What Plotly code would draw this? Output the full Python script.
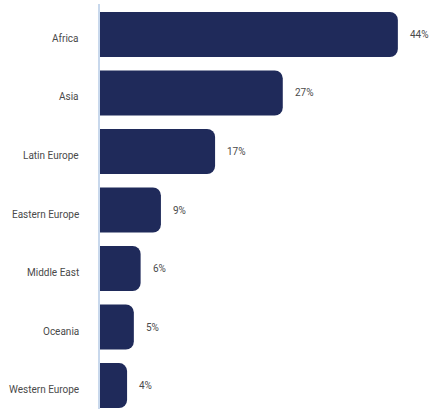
import plotly.graph_objects as go

regions = ["Africa", "Asia", "Latin Europe", "Eastern Europe", "Middle East", "Oceania", "Western Europe"]
shares = [44, 27, 17, 9, 6, 5, 4]
labels = [f"{v}%" for v in shares]

fig = go.Figure()
fig.add_trace(go.Bar(
    x=shares, y=regions, orientation="h",
    marker=dict(color="#1f2a5a", line=dict(width=0)),
    hoverinfo="skip",
))
for r, v, t in zip(regions, shares, labels):
    fig.add_annotation(x=v, y=r, text=t, showarrow=False, xanchor="left",
                       xshift=10, font=dict(family="Roboto", size=10, color="#4a4a4a"))
    fig.add_annotation(x=0, xref="paper", y=r, text=r, showarrow=False, xanchor="right",
                       xshift=-19, yshift=-4, font=dict(family="Roboto", size=10, color="#4a4a4a"))

fig.update_layout(
    width=429, height=409,
    margin=dict(l=100, r=0, t=4, b=0),
    paper_bgcolor="white", plot_bgcolor="white",
    bargap=0.23, barcornerradius=8,
    showlegend=False,
    font=dict(family="Roboto", size=10, color="#4a4a4a"),
    xaxis=dict(range=[0, 48.6], visible=False, fixedrange=True),
    yaxis=dict(
        categoryorder="array", categoryarray=regions,
        range=[6.4, -0.52],
        showline=True, linecolor="#c8d8ec", linewidth=2,
        showgrid=False, zeroline=False, ticks="",
        showticklabels=False, fixedrange=True,
    ),
)
fig.write_html("out.html", config={"displayModeBar": False},
               post_script="document.body.style.margin='0';document.body.style.overflow='hidden';")
